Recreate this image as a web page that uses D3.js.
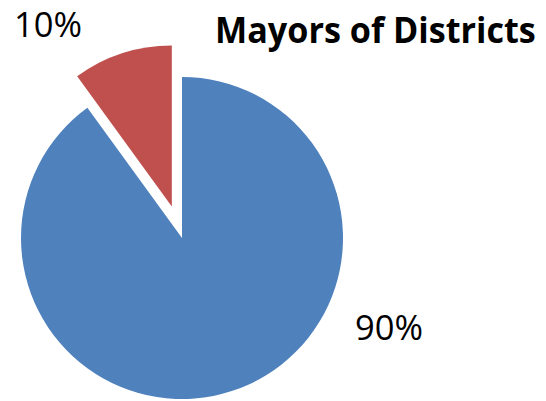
<!DOCTYPE html>
<html>
<head>
<meta charset="utf-8">
<script src="https://cdn.jsdelivr.net/npm/d3@7/dist/d3.min.js"></script>
<style>
  html, body { margin: 0; padding: 0; background: #fff; }
  svg { display: block; }
</style>
</head>
<body>
<svg id="chart" width="546" height="401"></svg>
<script>
// Data
const categories = ["Mayors (90%)", "Mayors (10%)"];
const values = [90, 10];
const labels = ["90%", "10%"];
const colors = ["#4F81BD", "#C0504D"];
const explode = [0, 33];
const title = "Mayors of Districts";

// Layout
const W = 546, H = 401;
const cx = 182, cy = 238, R = 161;
const labelPos = [{x: 355, y: 340}, {x: 14, y: 37}];

const svg = d3.select("#chart");
const pie = d3.pie().sort(null).value(d => d.v).startAngle(0).endAngle(2 * Math.PI);
const data = pie(values.map((v, i) => ({v, i})));
const arc = d3.arc().innerRadius(0).outerRadius(R);

const g = svg.append("g").attr("transform", `translate(${cx},${cy})`);
g.selectAll("path").data(data).join("path")
  .attr("d", arc)
  .attr("fill", d => colors[d.data.i])
  .attr("transform", d => {
    const a = (d.startAngle + d.endAngle) / 2;
    const off = explode[d.data.i];
    return `translate(${Math.sin(a) * off},${-Math.cos(a) * off})`;
  });

// Text fitted to a target width & height: measure, then scale
function fittedText(x, y, str, targetW, targetFont, weight) {
  const t = svg.append("text")
    .style("font-family", "'Open Sans', sans-serif")
    .style("font-weight", weight)
    .style("font-size", targetFont + "px")
    .style("fill", "#000")
    .text(str);
  const w = t.node().getComputedTextLength();
  const fs = targetFont * targetW / w;
  const sy = targetFont / fs;
  t.style("font-size", fs + "px")
   .attr("transform", `translate(${x},${y}) scale(1,${sy})`);
  return t;
}

data.forEach(d => {
  const p = labelPos[d.data.i];
  fittedText(p.x, p.y, labels[d.data.i], 68, 35, "normal");
});

fittedText(215, 43, title, 321, 36, "bold");
</script>
</body>
</html>
